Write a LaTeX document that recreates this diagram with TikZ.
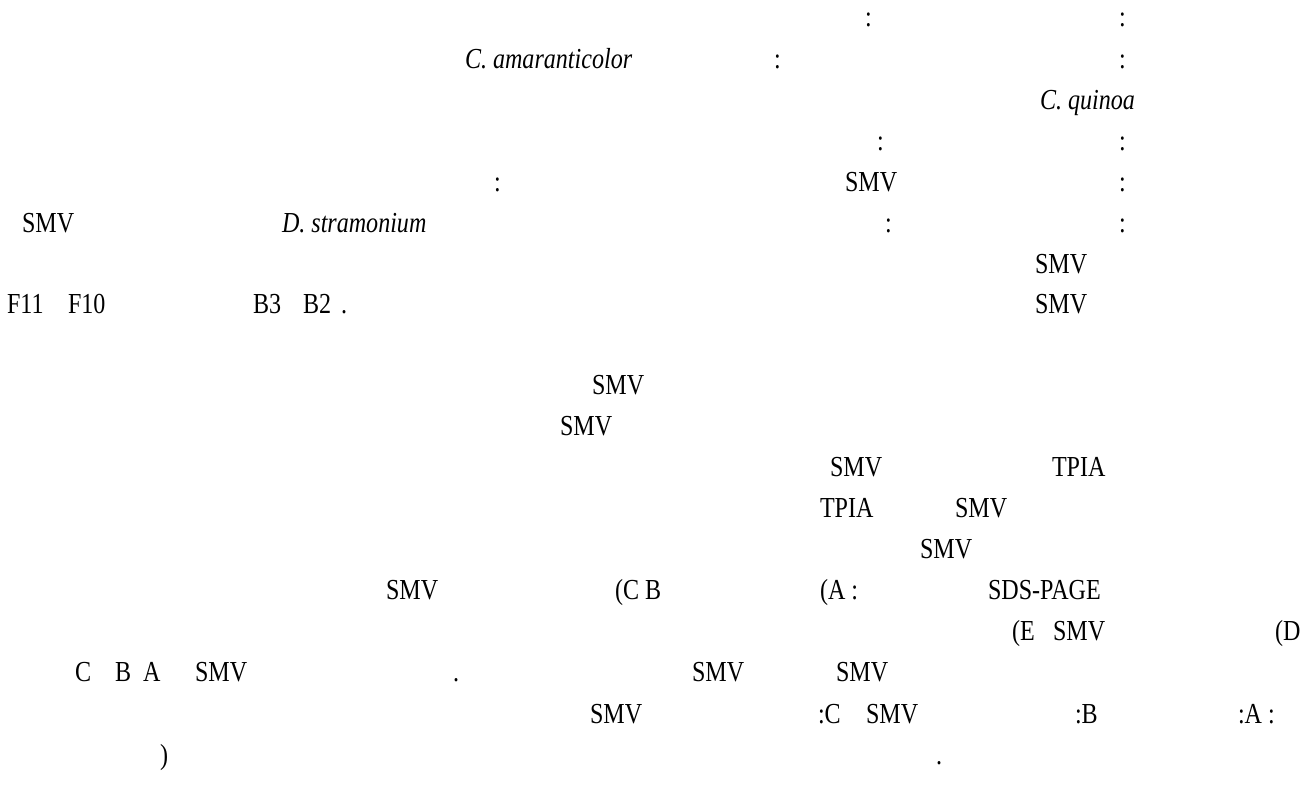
\documentclass[tikz,border=0pt]{standalone}
\usepackage{fontspec}
\setmainfont{Liberation Serif}[FakeStretch=0.83]
\begin{document}
\begin{tikzpicture}[x=1pt,y=-1pt,
  txt/.style={anchor=base west,inner sep=0pt,outer sep=0pt,font=\fontsize{29}{32}\selectfont},
  itx/.style={txt,font=\fontsize{29}{32}\selectfont\itshape}]
\useasboundingbox (0,0) rectangle (1306,794);
% row 1
\node[txt] (r1a) at (865,27) {:};
\node[txt] (r1b) at (1119,27) {:};
% row 2
\node[itx] (r2a) at (465,69) {C. amaranticolor};
\node[txt] (r2b) at (774,69) {:};
\node[txt] (r2c) at (1119,69) {:};
% row 3
\node[itx] (r3a) at (1040,110) {C. quinoa};
% row 4
\node[txt] (r4a) at (877,151) {:};
\node[txt] (r4b) at (1119,151) {:};
% row 5
\node[txt] (r5a) at (494,192) {:};
\node[txt] (r5b) at (845,192) {SMV};
\node[txt] (r5c) at (1119,192) {:};
% row 6
\node[txt] (r6a) at (22,233) {SMV};
\node[itx] (r6b) at (282,233) {D. stramonium};
\node[txt] (r6c) at (885,233) {:};
\node[txt] (r6d) at (1119,233) {:};
% row 7
\node[txt] (r7a) at (1035,273) {SMV};
% row 8
\node[txt] (r8a) at (7,313) {F11};
\node[txt] (r8b) at (68,313) {F10};
\node[txt] (r8c) at (253,313) {B3};
\node[txt] (r8d) at (303,313) {B2};
\node[txt] (r8e) at (341,313) {.};
\node[txt] (r8f) at (1035,313) {SMV};
% row 10
\node[txt] (r10a) at (592,394) {SMV};
% row 11
\node[txt] (r11a) at (560,435) {SMV};
% row 12
\node[txt] (r12a) at (830,476) {SMV};
\node[txt] (r12b) at (1052,476) {TPIA};
% row 13
\node[txt] (r13a) at (820,517) {TPIA};
\node[txt] (r13b) at (955,517) {SMV};
% row 14
\node[txt] (r14a) at (920,558) {SMV};
% row 15
\node[txt] (r15a) at (386,599) {SMV};
\node[txt] (r15b) at (615,599) {(C B};
\node[txt] (r15c) at (820,599) {(A :};
\node[txt] (r15d) at (988,599) {SDS-PAGE};
% row 16
\node[txt] (r16a) at (1012,640) {(E};
\node[txt] (r16b) at (1053,640) {SMV};
\node[txt] (r16c) at (1275,640) {(D};
% row 17
\node[txt] (r17a) at (75,681) {C};
\node[txt] (r17b) at (115,681) {B};
\node[txt] (r17c) at (143,681) {A};
\node[txt] (r17d) at (195,681) {SMV};
\node[txt] (r17e) at (453,681) {.};
\node[txt] (r17f) at (692,681) {SMV};
\node[txt] (r17g) at (836,681) {SMV};
% row 18
\node[txt] (r18a) at (590,723) {SMV};
\node[txt] (r18b) at (818,723) {:C};
\node[txt] (r18c) at (866,723) {SMV};
\node[txt] (r18d) at (1075,723) {:B};
\node[txt] (r18e) at (1238,723) {:A :};
% row 19
\node[txt] (r19a) at (160,764) {)};
\node[txt] (r19b) at (936,764) {.};
\end{tikzpicture}
\end{document}
